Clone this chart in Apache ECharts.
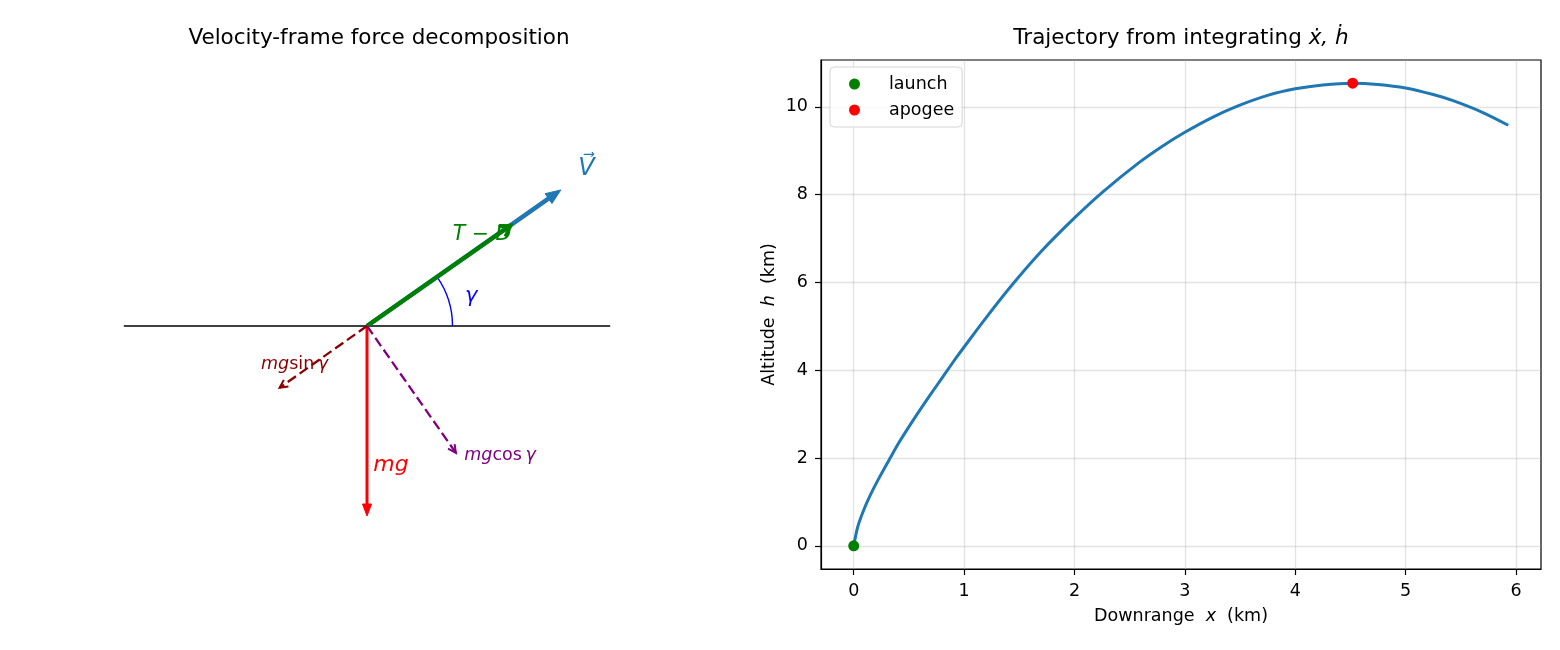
<!DOCTYPE html>
<html><head><meta charset="utf-8">
<script src="https://cdn.jsdelivr.net/npm/echarts@6/dist/echarts.min.js"></script>
<style>html,body{margin:0;padding:0;background:#fff}#c{width:1560px;height:650px}</style>
</head><body><div id="c"></div>
<script>
// ---------- Right panel: trajectory data (km) ----------
const downrangeKm = [0, 0.036, 0.088, 0.151, 0.224, 0.33, 0.414, 0.52, 0.631, 0.746, 0.84, 0.927, 1.0, 1.2, 1.43, 1.7, 2.0, 2.26, 2.59, 2.8, 3.0, 3.25, 3.47, 3.75, 4.0, 4.25, 4.52, 4.75, 5.0, 5.25, 5.43, 5.7, 5.93];
const altitudeKm  = [0, 0.43, 0.8, 1.16, 1.52, 2.0, 2.37, 2.79, 3.21, 3.63, 3.97, 4.28, 4.53, 5.2, 5.93, 6.71, 7.47, 8.07, 8.74, 9.11, 9.42, 9.76, 10.01, 10.26, 10.41, 10.5, 10.54, 10.51, 10.43, 10.28, 10.14, 9.87, 9.58];
const launchPoint = [0, 0];
const apogeePoint = [4.52, 10.54];
const xTickValues = [0, 1, 2, 3, 4, 5, 6];
const yTickValues = [0, 2, 4, 6, 8, 10];

// ---------- Left panel: force vectors (units of mg), all from origin ----------
const vectorNames = ['V', 'T-D', 'mg', 'mg sin', 'mg cos'];
const vectorTipX = [1.02, 0.757, 0, -0.46, 0.468];
const vectorTipY = [0.716, 0.53, -1.0, -0.325, -0.668];
const horizonX = [-1.28, 1.28];
const gammaDeg = 35;
const gammaArcRadius = 0.45;
const labelTexts = ['{v|V\u20D7}', '{ti|T}{t| \u2212 }{ti|D}', '{c|\u03B3}', '{r|mg}', '{si|mg}{s|sin}{si|\u2009\u03B3}', '{pi|mg}{p|cos}{pi|\u2009\u03B3}'];
const labelX = [1.155, 0.605, 0.549, 0.126, -0.381, 0.512];
const labelY = [0.83, 0.479, 0.154, -0.732, -0.2, -0.679];

// ---------- styles ----------
const FONT = 'DejaVu Sans';
const arrowStyles = [
  {color: '#1f77b4', width: 4.5, filled: true, headLen: 15, headWidth: 12},
  {color: '#008000', width: 4.3, filled: false, headLen: 11, headWidth: 12, headLineWidth: 3.5},
  {color: '#ff0000', width: 3.0, filled: true, headLen: 12, headWidth: 9},
  {color: '#8b0000', width: 2.3, filled: false, headLen: 8, headWidth: 8, dash: [10, 4.5], headLineWidth: 2},
  {color: '#800080', width: 2.3, filled: false, headLen: 8, headWidth: 8, dash: [10, 4.5], headLineWidth: 2}
];
const labelAlign = ['center', 'center', 'center', 'center', 'center', 'left'];

function renderArrow(params, api) {
  const st = arrowStyles[params.dataIndex];
  const p0 = api.coord([api.value(0), api.value(1)]);
  const p1 = api.coord([api.value(2), api.value(3)]);
  const dx = p1[0] - p0[0], dy = p1[1] - p0[1];
  const L = Math.hypot(dx, dy);
  const ux = dx / L, uy = dy / L, nx = -uy, ny = ux;
  const hl = st.headLen, hw = st.headWidth / 2;
  const base = [p1[0] - ux * hl, p1[1] - uy * hl];
  const left = [base[0] + nx * hw, base[1] + ny * hw];
  const right = [base[0] - nx * hw, base[1] - ny * hw];
  const lineEnd = st.filled ? [p1[0] - ux * hl * 0.6, p1[1] - uy * hl * 0.6] : p1;
  const children = [{
    type: 'line',
    shape: {x1: p0[0], y1: p0[1], x2: lineEnd[0], y2: lineEnd[1]},
    style: {stroke: st.color, lineWidth: st.width, lineDash: st.dash || null, lineCap: 'butt', fill: null}
  }];
  if (st.filled) {
    children.push({type: 'polygon', shape: {points: [p1, left, right]}, style: {fill: st.color, stroke: st.color, lineWidth: 1}});
  } else {
    children.push({type: 'polyline', shape: {points: [left, p1, right]}, style: {stroke: st.color, fill: null, lineWidth: st.headLineWidth, lineJoin: 'miter'}});
  }
  return {type: 'group', children};
}

function renderArc(params, api) {
  const c = api.coord([api.value(0), api.value(1)]);
  const r = api.size([api.value(2), 0])[0];
  const a = api.value(3) * Math.PI / 180;
  return {type: 'arc', shape: {cx: c[0], cy: c[1], r: r, startAngle: -a, endAngle: 0, clockwise: true},
          style: {stroke: '#0000ff', fill: null, lineWidth: 1.4}};
}

const chart = echarts.init(document.getElementById('c'), null, {renderer: 'canvas'});
const trajectory = downrangeKm.map((x, i) => [x, altitudeKm[i]]);
const xr = downrangeKm[downrangeKm.length - 1] - 0;
const yMax = Math.max(...altitudeKm), yMin = 0;
const yr = yMax - yMin;

function rs(color, size, italic) {
  return {color: color, fontSize: size, fontStyle: italic ? 'italic' : 'normal', fontFamily: FONT,
          textBorderWidth: 0, textShadowBlur: 0, opacity: 1};
}

const option = {
  backgroundColor: '#fff',
  animation: false,
  textStyle: {fontFamily: FONT},
  title: [
    {text: 'Velocity-frame force decomposition', left: 379, top: 27, textAlign: 'center', padding: 0,
     textStyle: {fontFamily: FONT, fontSize: 21.5, fontWeight: 'normal', color: '#000'}},
    {text: 'Trajectory from integrating {m|\u1E8B, \u1E23}', left: 1181, top: 27, textAlign: 'center', padding: 0,
     textStyle: {fontFamily: FONT, fontSize: 21.5, fontWeight: 'normal', color: '#000',
       rich: {m: {fontFamily: FONT, fontSize: 21.5, fontStyle: 'italic', color: '#000'}}}}
  ],
  legend: {
    data: ['launch', 'apogee'], orient: 'vertical', left: 830, top: 67,
    icon: 'circle', itemWidth: 11, itemHeight: 11, itemGap: 8,
    padding: [8, 8, 8, 19],
    backgroundColor: 'rgba(255,255,255,0.8)', borderColor: '#d5d5d5', borderWidth: 1, borderRadius: 4,
    textStyle: {fontFamily: FONT, fontSize: 17.5, color: '#000', lineHeight: 18, padding: [0, 0, 0, 24]}
  },
  grid: [
    {left: 101, top: 60, width: 532, height: 532, show: false},
    {left: 821, top: 60, width: 720, height: 509, show: true, borderColor: '#000', borderWidth: 1.2, backgroundColor: 'transparent'}
  ],
  xAxis: [
    {gridIndex: 0, type: 'value', min: -1.4, max: 1.4, show: false},
    {gridIndex: 1, type: 'value', min: -0.05 * xr, max: xr * 1.05,
     axisLine: {show: true, onZero: false, lineStyle: {color: '#000', width: 1.2}},
     axisTick: {show: true, customValues: xTickValues, length: 6, lineStyle: {color: '#000', width: 1.2}},
     axisLabel: {customValues: xTickValues, color: '#000', fontSize: 17.5, fontFamily: FONT, margin: 13},
     splitLine: {show: true, lineStyle: {color: 'rgba(176,176,176,0.35)', width: 1.3}},
     name: 'Downrange  {i|x}  (km)', nameLocation: 'middle', nameGap: 38,
     nameTextStyle: {fontFamily: FONT, fontSize: 17.5, color: '#000', rich: {i: {fontStyle: 'italic', fontSize: 17.5, fontFamily: FONT, color: '#000'}}}}
  ],
  yAxis: [
    {gridIndex: 0, type: 'value', min: -1.4, max: 1.4, show: false},
    {gridIndex: 1, type: 'value', min: yMin - 0.05 * yr, max: yMax + 0.05 * yr,
     axisLine: {show: true, onZero: false, lineStyle: {color: '#000', width: 1.2}},
     axisTick: {show: true, customValues: yTickValues, length: 6, lineStyle: {color: '#000', width: 1.2}},
     axisLabel: {customValues: yTickValues, color: '#000', fontSize: 17.5, fontFamily: FONT, margin: 13},
     splitLine: {show: true, lineStyle: {color: 'rgba(176,176,176,0.35)', width: 1.3}},
     name: 'Altitude  {i|h}  (km)', nameLocation: 'middle', nameGap: 43,
     nameTextStyle: {fontFamily: FONT, fontSize: 17.5, color: '#000', rich: {i: {fontStyle: 'italic', fontSize: 17.5, fontFamily: FONT, color: '#000'}}}}
  ],
  series: [
    {type: 'line', xAxisIndex: 0, yAxisIndex: 0, data: horizonX.map(x => [x, 0]), showSymbol: false,
     lineStyle: {color: '#000', width: 1.3}, z: 1, silent: true},
    {type: 'custom', xAxisIndex: 0, yAxisIndex: 0, renderItem: renderArc, data: [[0, 0, gammaArcRadius, gammaDeg]], z: 2, silent: true},
    {type: 'custom', xAxisIndex: 0, yAxisIndex: 0, renderItem: renderArrow, encode: {x: [0, 2], y: [1, 3]},
     data: vectorTipX.map((x, i) => ({name: vectorNames[i], value: [0, 0, x, vectorTipY[i]]})), z: 3, silent: true},
    {type: 'scatter', xAxisIndex: 0, yAxisIndex: 0, symbolSize: 0, z: 4, silent: true,
     itemStyle: {color: '#000', opacity: 1},
     data: labelX.map((x, i) => ({
       value: [x, labelY[i]],
       label: {show: true, position: labelAlign[i] === 'left' ? 'right' : 'inside', distance: 0, formatter: labelTexts[i],
         color: '#000', textBorderWidth: 0, textBorderColor: 'transparent', opacity: 1,
         rich: {
           v: rs('#1f77b4', 24, true),
           t: rs('#008000', 20.5, false),
           ti: rs('#008000', 20.5, true),
           c: rs('#0000ff', 21, true),
           r: rs('#ff0000', 22, true),
           s: rs('#8b0000', 17.5, false),
           si: rs('#8b0000', 17.5, true),
           p: rs('#800080', 17.5, false),
           pi: rs('#800080', 17.5, true)
         }}
     }))},
    {type: 'line', name: 'trajectory', xAxisIndex: 1, yAxisIndex: 1, data: trajectory, showSymbol: false,
     smooth: 0.3, lineStyle: {color: '#1f77b4', width: 3}, z: 3, silent: true},
    {type: 'scatter', name: 'launch', xAxisIndex: 1, yAxisIndex: 1, data: [launchPoint], symbolSize: 11,
     itemStyle: {color: '#008000', opacity: 1}, z: 5},
    {type: 'scatter', name: 'apogee', xAxisIndex: 1, yAxisIndex: 1, data: [apogeePoint], symbolSize: 11,
     itemStyle: {color: '#ff0000', opacity: 1}, z: 5}
  ]
};
chart.setOption(option);
</script>
</body></html>
